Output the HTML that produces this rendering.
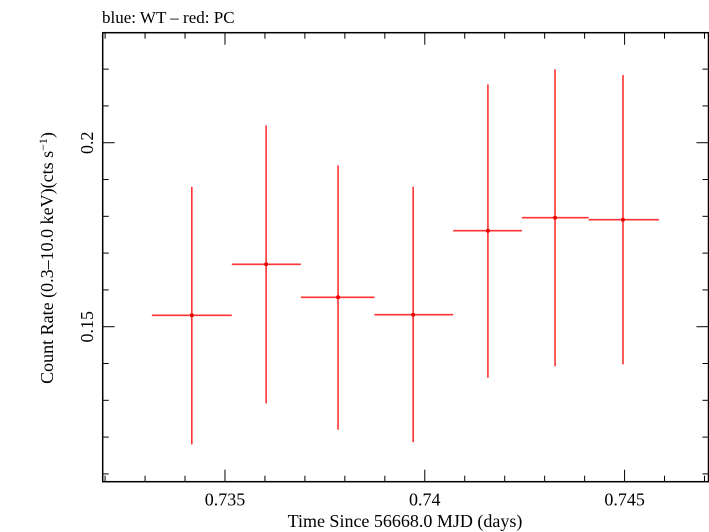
<!DOCTYPE html>
<html><head><meta charset="utf-8"><style>
body{margin:0;background:#fff}
svg{display:block;font-family:"Liberation Serif",serif}
</style></head><body>
<svg id="chart" width="709" height="532">
<text x="102" y="23" font-size="17">blue: WT – red: PC</text>
<g id="axes"></g>
<g id="series"></g>
<text x="405" y="527" font-size="18" text-anchor="middle">Time Since 56668.0 MJD (days)</text>
<text transform="translate(53,258) rotate(-90)" font-size="18" text-anchor="middle">Count Rate (0.3–10.0 keV)(cts s<tspan dy="-6" font-size="12">−1</tspan><tspan dy="6">)</tspan></text>
</svg>
<script>
const xCenters=[0.73417,0.73603,0.73783,0.73971,0.74158,0.74326,0.74496];
const xLo=[0.73317,0.73517,0.73690,0.73874,0.74071,0.74243,0.74410];
const xHi=[0.73517,0.73690,0.73874,0.74071,0.74243,0.74410,0.74586];
const yVals=[0.15310,0.16696,0.15799,0.15326,0.17609,0.17962,0.17908];
const yTop=[0.18804,0.20473,0.19386,0.18804,0.21587,0.21995,0.21840];
const yBot=[0.11804,0.12918,0.12201,0.11859,0.13614,0.13924,0.13978];
const xTickLabels=["0.735","0.74","0.745"];
const yTickLabels=["0.15","0.2"];
const L=102.7,R=708.5,T=32.7,B=481.7;
const X0=0.73194,X1=0.74710,Y0=0.10788,Y1=0.2299;
const sx=v=>L+(v-X0)/(X1-X0)*(R-L);
const sy=v=>B-(v-Y0)/(Y1-Y0)*(B-T);
const NS="http://www.w3.org/2000/svg";
function mk(tag,attrs,parent){const e=document.createElementNS(NS,tag);for(const k in attrs)e.setAttribute(k,attrs[k]);parent.appendChild(e);return e;}
const ax=document.getElementById('axes');
const frame=mk('rect',{x:L,y:T,width:R-L,height:B-T,fill:'none',stroke:'#000','stroke-width':1.5},ax);


for(let i=732;i<=747;i++){const v=i/1000;if(v<X0||v>X1)continue;const x=sx(v);const major=i%5===0;const len=major?12:6;
 const t1=mk('line',{x1:x,x2:x,y1:B,y2:B-len,stroke:'#000'},ax);
 
 
 const t2=mk('line',{x1:x,x2:x,y1:T,y2:T+len,stroke:'#000'},ax);
 
 }
xTickLabels.forEach(s=>{const t=mk('text',{x:sx(parseFloat(s)),y:B+24,'font-size':18,'text-anchor':'middle'},ax);t.textContent=s;
 
 });
for(let i=11;i<=22;i++){const v=i/100;const y=sy(v);const major=i%5===0;const len=major?12:6;
 const t1=mk('line',{x1:L,x2:L+len,y1:y,y2:y,stroke:'#000'},ax);
 
 
 const t2=mk('line',{x1:R,x2:R-len,y1:y,y2:y,stroke:'#000'},ax);
 
 }
yTickLabels.forEach(s=>{const y=sy(parseFloat(s));const t=mk('text',{transform:`translate(93,${y}) rotate(-90)`,'font-size':18,'text-anchor':'middle'},ax);t.textContent=s;
 
 });
const sg=document.getElementById('series');
xCenters.forEach((xc,i)=>{
 const g=mk('g',{},sg);
 
 
 mk('line',{x1:sx(xLo[i]),x2:sx(xHi[i]),y1:sy(yVals[i]),y2:sy(yVals[i]),stroke:'#f33','stroke-width':1.6},g);
 mk('line',{x1:sx(xc),x2:sx(xc),y1:sy(yTop[i]),y2:sy(yBot[i]),stroke:'#f33','stroke-width':1.6},g);
 mk('circle',{cx:sx(xc),cy:sy(yVals[i]),r:2,fill:'#e00'},g);
});
</script>
</body></html>
